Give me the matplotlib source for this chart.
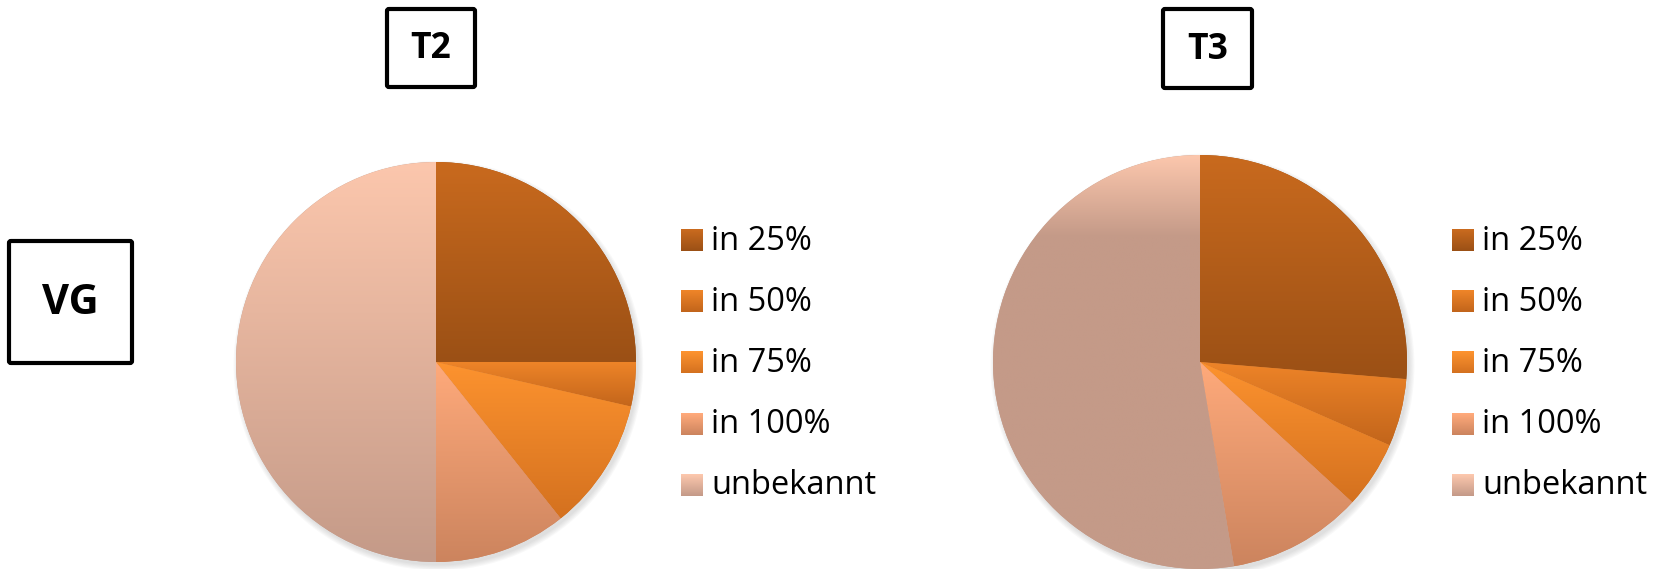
import numpy as np
import matplotlib
matplotlib.use('Agg')
import matplotlib.pyplot as plt
from matplotlib.patches import Rectangle, FancyBboxPatch, Circle
from matplotlib.colors import to_rgb

# ---------------- data ----------------
categories = ['in 25%', 'in 50%', 'in 75%', 'in 100%', 'unbekannt']
t2_values = [7, 1, 3, 3, 14]
t3_values = [5, 1, 1, 2, 10]
panel_titles = ['T2', 'T3']
row_label = 'VG'

# ---------------- style ----------------
colors_top = ['#C96A1E', '#EE8428', '#FD932F', '#FFAA7B', '#FCC7AD']
colors_bot = ['#9B5015', '#C2651B', '#D4711F', '#CC845E', '#C49A88']

plt.rcParams['font.family'] = ['Open Sans', 'DejaVu Sans']

W, H = 1659, 569
fig = plt.figure(figsize=(W / 100, H / 100), dpi=100)

overlay = fig.add_axes([0, 0, 1, 1], zorder=0)
overlay.set_xlim(0, W)
overlay.set_ylim(H, 0)
overlay.axis('off')


def gradient(c_top, c_bot, n=256):
    a = np.array(to_rgb(c_top))
    b = np.array(to_rgb(c_bot))
    t = np.linspace(0, 1, n)[:, None]
    return (a[None, :] * (1 - t) + b[None, :] * t)[:, None, :]


def draw_pie(values, cx, cy, r, grad_span):
    ax = fig.add_axes([(cx - r) / W, 1 - (cy + r) / H, 2 * r / W, 2 * r / H], zorder=2)
    # soft shadow
    for k in range(5):
        sh = Circle((0.012, -0.018), 1.0 + 0.006 * k, color='#808080',
                    alpha=0.05, lw=0, clip_on=False, zorder=0)
        ax.add_patch(sh)
    wedges, _ = ax.pie(values, startangle=90, counterclock=False, radius=1.0,
                       colors=colors_bot, wedgeprops=dict(linewidth=0))
    for i, w in enumerate(wedges):
        w.set_zorder(1)
        bb = w.get_path().get_extents()
        x0, x1, y0, y1 = bb.x0, bb.x1, bb.y0, bb.y1
        span = grad_span[i]
        n = 256
        g = gradient(colors_top[i], colors_bot[i], n)
        if span < 1:
            m = int(n * span)
            g = np.concatenate([gradient(colors_top[i], colors_bot[i], m),
                                np.repeat(g[-1:], n - m, axis=0)], axis=0)
        im = ax.imshow(g, extent=[x0, x1, y0, y1], origin='upper',
                       aspect='auto', zorder=2, interpolation='bilinear')
        im.set_clip_path(w)
    ax.set_xlim(-1, 1)
    ax.set_ylim(-1, 1)
    ax.set_aspect('auto')
    ax.axis('off')
    return ax


draw_pie(t2_values, 436, 362, 200, [1, 1, 1, 1, 1])
draw_pie(t3_values, 1200, 362, 207, [1, 1, 1, 1, 0.2])


def box(x0, y0, x1, y1, label, size):
    p = FancyBboxPatch((x0, y0), x1 - x0, y1 - y0,
                       boxstyle='round,pad=0,rounding_size=2',
                       fc='white', ec='black', lw=3.0)
    overlay.add_patch(p)
    overlay.text((x0 + x1) / 2, (y0 + y1) / 2 + 1, label, ha='center', va='center',
                 fontsize=size, fontweight='bold', color='black')


box(387, 9, 475, 87, panel_titles[0], 25.5)
box(1163, 9, 1252, 88, panel_titles[1], 25.5)
box(9, 241, 132, 363, row_label, 30)


def legend(x_sq, x_txt, y_first, dy):
    for i, lab in enumerate(categories):
        yc = y_first + i * dy
        sq = 22
        top = yc - sq / 2
        g = gradient(colors_top[i], colors_bot[i], sq)
        for k in range(sq):
            overlay.add_patch(Rectangle((x_sq, top + k), sq, 1.05,
                                        fc=g[k, 0], ec='none', lw=0))
        overlay.text(x_txt, yc + 1, lab, ha='left', va='center',
                     fontsize=23.5, color='black')


legend(681, 711, 240, 61.2)
legend(1452, 1482, 240, 61.2)

fig.savefig('out.png', dpi=100, facecolor='white')
